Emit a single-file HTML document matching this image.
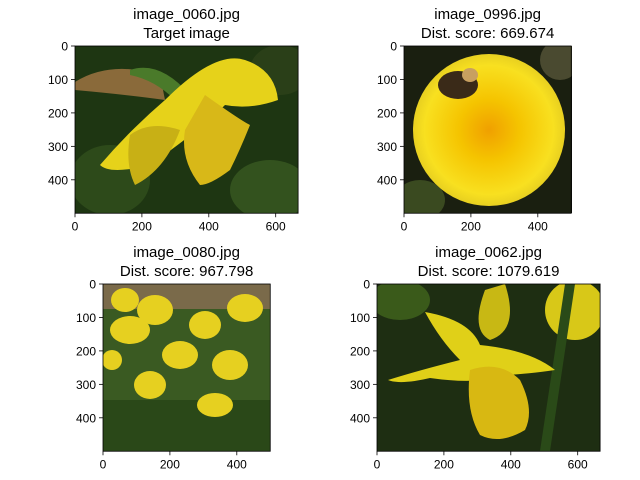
<!DOCTYPE html>
<html><head><meta charset="utf-8"><style>
body{margin:0;background:#fff}
svg{display:block;font-family:"Liberation Sans","DejaVu Sans",sans-serif}
</style></head><body>
<svg id="fig" width="640" height="480" viewBox="0 0 640 480">
<defs>
<radialGradient id="dand" cx="0.5" cy="0.5" r="0.5"><stop offset="0" stop-color="#f0a000"/><stop offset="0.4" stop-color="#f5c400"/><stop offset="0.85" stop-color="#f8e020"/><stop offset="1" stop-color="#e8d020"/></radialGradient>
<clipPath id="c0"><rect x="75" y="46" width="223" height="167"/></clipPath>
<clipPath id="c1"><rect x="404" y="46" width="168" height="167"/></clipPath>
<clipPath id="c2"><rect x="103" y="284" width="167" height="167"/></clipPath>
<clipPath id="c3"><rect x="377" y="284" width="223" height="167"/></clipPath>
</defs>

<g clip-path="url(#c0)">
<rect x="75" y="46" width="223" height="167" fill="#1e3612"/>
<ellipse cx="110" cy="180" rx="40" ry="35" fill="#2d4a1a"/>
<ellipse cx="270" cy="190" rx="40" ry="30" fill="#33521e"/>
<ellipse cx="280" cy="70" rx="30" ry="25" fill="#2a3f18"/>
<path d="M75 82 Q110 60 160 75 L165 100 Q130 95 75 90Z" fill="#8a6a3a"/>
<path d="M130 70 Q160 60 190 95 L175 100 Q155 80 130 75Z" fill="#4a7a2a"/>
<path d="M165 100 Q215 50 245 60 Q275 70 278 100 Q250 110 225 105 Q200 130 150 165 Q110 175 100 165 Q130 130 165 100Z" fill="#e6d21a"/>
<path d="M205 95 Q240 120 250 125 Q240 150 230 170 Q210 185 200 185 Q180 160 185 130Z" fill="#d8b818"/>
<path d="M130 135 Q150 120 180 130 Q165 170 135 185 Q125 165 130 135Z" fill="#c8b015"/>
</g>

<g clip-path="url(#c1)">
<rect x="404" y="46" width="168" height="167" fill="#1a1f10"/>
<ellipse cx="420" cy="200" rx="25" ry="20" fill="#3a4a20"/>
<ellipse cx="560" cy="60" rx="20" ry="20" fill="#4a4a30"/>
<circle cx="489" cy="130" r="76" fill="url(#dand)"/>
<ellipse cx="458" cy="85" rx="20" ry="14" fill="#3a2a18"/>
<ellipse cx="470" cy="75" rx="8" ry="7" fill="#c8a060"/>
</g>

<g clip-path="url(#c2)">
<rect x="103" y="284" width="167" height="167" fill="#3a5a22"/>
<rect x="103" y="284" width="167" height="25" fill="#7a6a4a"/>
<rect x="103" y="400" width="167" height="51" fill="#2a4818"/>
<g fill="#e6d020">
<ellipse cx="125" cy="300" rx="14" ry="12"/><ellipse cx="155" cy="310" rx="18" ry="15"/>
<ellipse cx="245" cy="308" rx="18" ry="14"/><ellipse cx="130" cy="330" rx="20" ry="14"/>
<ellipse cx="205" cy="325" rx="16" ry="14"/><ellipse cx="180" cy="355" rx="18" ry="14"/>
<ellipse cx="230" cy="365" rx="18" ry="15"/><ellipse cx="150" cy="385" rx="16" ry="14"/>
<ellipse cx="215" cy="405" rx="18" ry="12"/><ellipse cx="112" cy="360" rx="10" ry="10"/>
</g>
</g>

<g clip-path="url(#c3)">
<rect x="377" y="284" width="223" height="167" fill="#1e2e12"/>
<ellipse cx="400" cy="300" rx="30" ry="20" fill="#3a5a1a"/>
<ellipse cx="575" cy="310" rx="30" ry="30" fill="#d8c818"/>
<path d="M565 284 L575 284 L550 451 L540 451Z" fill="#2a4a18"/>
<path d="M505 284 Q520 330 490 340 Q470 330 485 290Z" fill="#c8b814"/>
<path d="M425 312 Q470 320 480 345 Q530 350 555 370 Q520 375 500 375 Q480 385 430 378 Q400 385 388 380 Q420 370 460 360 Q440 340 425 312Z" fill="#e0d018"/>
<path d="M470 370 Q500 360 520 380 Q535 410 525 430 Q500 445 480 435 Q465 410 470 370Z" fill="#d8b812"/>
</g>

<g id="axes"></g>
</svg>
<script>
const titles1 = ["image_0060.jpg","image_0996.jpg","image_0080.jpg","image_0062.jpg"];
const titles2 = ["Target image","Dist. score: 669.674","Dist. score: 967.798","Dist. score: 1079.619"];
const imgWidths = [667,500,500,667];
const imgHeights = [500,500,500,500];
const xTicks = [[0,200,400,600],[0,200,400],[0,200,400],[0,200,400,600]];
const yTicks = [0,100,200,300,400];
const axX=[75,404,103,377], axY=[46,46,284,284], scale=0.3345;
const NS="http://www.w3.org/2000/svg";
const g=document.getElementById('axes');
function mk(t,a,p){const e=document.createElementNS(NS,t);for(const k in a)e.setAttribute(k,a[k]);(p||g).appendChild(e);return e;}
for(let i=0;i<4;i++){
  const x0=axX[i],y0=axY[i],w=imgWidths[i]*scale,h=imgHeights[i]*scale;
  const sx=v=>x0+v*scale, sy=v=>y0+v*scale;
  const fr=mk('rect',{x:x0,y:y0,width:w,height:h,fill:'none',stroke:'#000','stroke-width':0.8});
  
  
  const cx=x0+w/2;
  const t1=mk('text',{x:cx,y:y0-27,'text-anchor':'middle','font-size':15});t1.textContent=titles1[i];
  
  
  const t2=mk('text',{x:cx,y:y0-8,'text-anchor':'middle','font-size':15});t2.textContent=titles2[i];
  
  
  xTicks[i].forEach(v=>{const X=sx(v);
    const l=mk('line',{x1:X,x2:X,y1:y0+h,y2:y0+h+4,stroke:'#000','stroke-width':0.8});
    
    
    const t=mk('text',{x:X,y:y0+h+17,'text-anchor':'middle','font-size':12});t.textContent=v;
    
    });
  yTicks.forEach(v=>{const Y=sy(v);
    const l=mk('line',{x1:x0-4,x2:x0,y1:Y,y2:Y,stroke:'#000','stroke-width':0.8});
    
    
    const t=mk('text',{x:x0-7,y:Y+4.5,'text-anchor':'end','font-size':12});t.textContent=v;
    
    });
}
</script>
</body></html>
